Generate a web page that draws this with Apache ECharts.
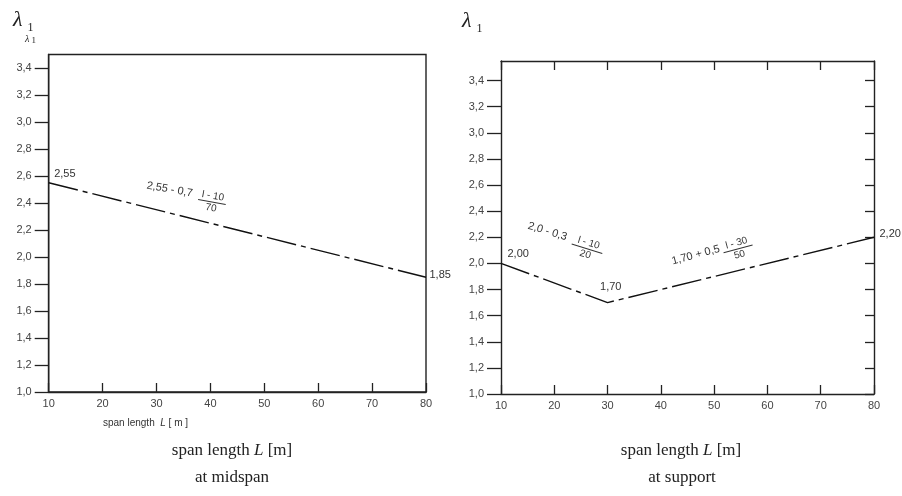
<!DOCTYPE html>
<html>
<head>
<meta charset="utf-8">
<script src="https://cdn.jsdelivr.net/npm/echarts@6/dist/echarts.min.js"></script>
<style>
html, body { margin: 0; padding: 0; background: #fff; }
#main { width: 902px; height: 496px; }
</style>
</head>
<body>
<div id="main"></div>
<script>
// span length ticks (x) and lambda ticks (y)
var spanTicks = [10, 20, 30, 40, 50, 60, 70, 80];
var lambdaTicks = [1.0, 1.2, 1.4, 1.6, 1.8, 2.0, 2.2, 2.4, 2.6, 2.8, 3.0, 3.2, 3.4];

// at midspan
var midspanL = [10, 80];
var midspanLambda = [2.55, 1.85];

// at support
var supportL = [10, 30, 80];
var supportLambda = [2.00, 1.70, 2.20];

var dom = document.getElementById('main');
var myChart = echarts.init(dom);

var ink = '#222';
var sans = '"Liberation Sans", Arial, sans-serif';
var serif = '"Liberation Serif", "Times New Roman", serif';

function fmt(v, d) {
  return v.toFixed(d).replace('.', ',');
}

function xAxisCfg(gi, pos, withLabels) {
  return {
    type: 'value', gridIndex: gi, position: pos,
    min: 10, max: 80, interval: 10,
    axisLine: { show: true, lineStyle: { color: ink, width: 1.4 } },
    axisTick: { show: true, inside: true, length: 9, customValues: spanTicks, lineStyle: { color: ink, width: 1.3 } },
    axisLabel: { show: withLabels, customValues: spanTicks, color: '#444', fontSize: 11, fontFamily: sans, margin: 6 },
    splitLine: { show: false }
  };
}

function yAxisCfg(gi, pos, max, withLabels) {
  return {
    type: 'value', gridIndex: gi, position: pos,
    min: 1.0, max: max, interval: 0.2,
    axisLine: { show: true, lineStyle: { color: ink, width: 1.4 } },
    axisTick: { show: true, inside: !withLabels, length: withLabels ? 14 : 9, customValues: lambdaTicks, lineStyle: { color: ink, width: 1.3 } },
    axisLabel: {
      show: withLabels, customValues: lambdaTicks, color: '#444', fontSize: 11, fontFamily: sans, margin: 17,
      formatter: function (v) { return fmt(v, 1); }
    },
    splitLine: { show: false }
  };
}

// label offsets for the end / break points
var midLabelOffsets = [[6, -14], [4, -7]];
var supLabelOffsets = [[7, -14], [-7, -21], [6, -8]];

function points(xs, ys, offsets) {
  return xs.map(function (x, i) {
    return {
      value: [x, ys[i]],
      label: { show: true, position: offsets[i], formatter: fmt(ys[i], 2),
               color: '#333', fontSize: 11, fontFamily: sans }
    };
  });
}

var dashDot = { color: '#111', width: 1.4, type: [30, 5, 5, 5] };

function lineSeries(ai, xs, ys, offsets) {
  return {
    type: 'line', xAxisIndex: ai, yAxisIndex: ai,
    symbol: 'circle', symbolSize: 1, showSymbol: true,
    itemStyle: { color: 'rgba(0,0,0,0)' },
    lineStyle: dashDot, silent: true,
    data: points(xs, ys, offsets)
  };
}

option = {
  animation: false,
  backgroundColor: '#fff',
  grid: [
    { left: 48.7, top: 54.5, width: 377.3, height: 337.5, show: true, borderColor: ink, borderWidth: 1.4 },
    { left: 501, top: 61, width: 373, height: 333, show: false }
  ],
  xAxis: [
    xAxisCfg(0, 'bottom', true),
    xAxisCfg(1, 'bottom', true),
    xAxisCfg(1, 'top', false)
  ],
  yAxis: [
    yAxisCfg(0, 'left', 3.5, true),
    yAxisCfg(1, 'left', 3.55, true),
    yAxisCfg(1, 'right', 3.55, false)
  ],
  series: [
    lineSeries(0, midspanL, midspanLambda, midLabelOffsets),
    lineSeries(1, supportL, supportLambda, supLabelOffsets)
  ]
};

myChart.setOption(option);

// formula annotations, anchored in data coordinates
function formula(pt, deg, main, num, den, fracX, fracW) {
  var f = '11px ' + sans;
  var ff = '10px ' + sans;
  return {
    type: 'group', x: pt[0], y: pt[1], rotation: deg * Math.PI / 180,
    children: [
      { type: 'text', x: 0, y: 0, style: { text: main, font: f, fill: '#333', verticalAlign: 'middle' } },
      { type: 'text', x: fracX, y: -1, style: { text: num, font: ff, fill: '#333', align: 'center', verticalAlign: 'middle' } },
      { type: 'line', shape: { x1: fracX - fracW / 2, y1: 5, x2: fracX + fracW / 2, y2: 5 }, style: { stroke: '#333', lineWidth: 1 } },
      { type: 'text', x: fracX, y: 11, style: { text: den, font: ff, fill: '#333', align: 'center', verticalAlign: 'middle' } }
    ]
  };
}

function lambdaLabel(x, y, big, small) {
  return [
    { type: 'text', x: x, y: y, style: { text: 'λ', font: 'italic ' + big + 'px ' + serif, fill: ink, verticalAlign: 'bottom' } },
    { type: 'text', x: x + big * 0.66, y: y + big * 0.12, style: { text: '1', font: small + 'px ' + serif, fill: ink, verticalAlign: 'bottom' } }
  ];
}

function spanTitle(cx, y, size, fam) {
  return {
    type: 'text', x: cx, y: y,
    style: {
      text: '{a|span length }{b|L}{a| [m]}', align: 'center', verticalAlign: 'middle',
      rich: {
        a: { fontFamily: fam, fontSize: size, fill: ink },
        b: { fontFamily: fam, fontSize: size, fontStyle: 'italic', fill: ink }
      }
    }
  };
}

var pA = myChart.convertToPixel({ gridIndex: 0 }, [28.2, 2.53]);
var pB = myChart.convertToPixel({ gridIndex: 1 }, [15.1, 2.29]);
var pC = myChart.convertToPixel({ gridIndex: 1 }, [42.1, 2.015]);

var graphics = [
  formula(pA, -10, '2,55 - 0,7', 'l - 10', '70', 67, 28),
  formula(pB, -17, '2,0 - 0,3', 'l - 10', '20', 63, 32),
  formula(pC, 15, '1,70 + 0,5', 'l - 30', '50', 67, 30),
  {
    type: 'text', x: 103, y: 423,
    style: {
      text: '{a|span length  }{b|L}{a| [ m ]}', verticalAlign: 'middle',
      rich: {
        a: { fontFamily: sans, fontSize: 10, fill: '#333' },
        b: { fontFamily: sans, fontSize: 10, fontStyle: 'italic', fill: '#333' }
      }
    }
  },
  spanTitle(232, 451, 17, serif),
  spanTitle(681, 451, 17, serif),
  { type: 'text', x: 232, y: 478, style: { text: 'at midspan', font: '17px ' + serif, fill: ink, align: 'center', verticalAlign: 'middle' } },
  { type: 'text', x: 682, y: 478, style: { text: 'at support', font: '17px ' + serif, fill: ink, align: 'center', verticalAlign: 'middle' } }
];
graphics = graphics
  .concat(lambdaLabel(13, 31, 22, 12))
  .concat(lambdaLabel(462, 32, 22, 12))
  .concat(lambdaLabel(25, 44, 10, 9));

myChart.setOption({ graphic: graphics });
</script>
</body>
</html>
